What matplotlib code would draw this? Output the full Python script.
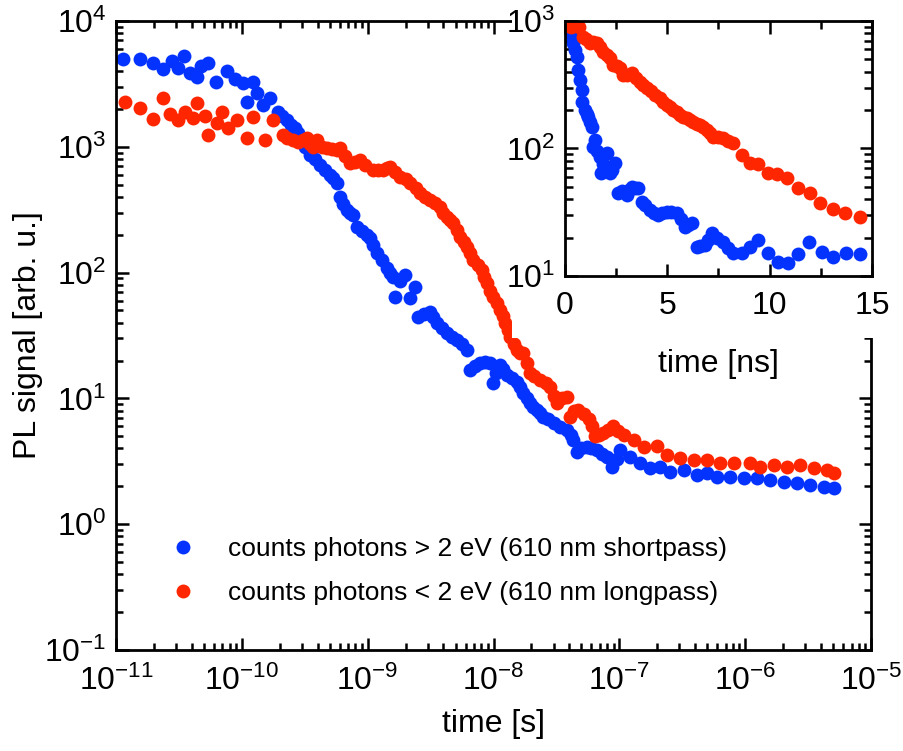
import matplotlib
matplotlib.use("Agg")
import matplotlib.pyplot as plt
from matplotlib.patches import Rectangle
from matplotlib.ticker import LogLocator, MultipleLocator, NullFormatter

plt.rcParams['font.family'] = ['Liberation Sans', 'DejaVu Sans']
plt.rcParams['mathtext.fontset'] = 'custom'
plt.rcParams['mathtext.rm'] = 'Liberation Sans'
plt.rcParams['mathtext.it'] = 'Liberation Sans'

BLUE = '#0433FF'
RED = '#FF2600'

# main panel: time [s], PL signal [arb. u.]
t_short = [1.14e-11, 1.55e-11, 1.98e-11, 2.38e-11, 2.77e-11, 3.13e-11, 3.48e-11, 3.87e-11,
           4.43e-11, 4.71e-11, 5.42e-11, 6.24e-11, 7.59e-11, 8.83e-11, 1.03e-10, 1.09e-10,
           1.23e-10, 1.31e-10, 1.48e-10, 1.67e-10, 1.95e-10, 2.1e-10, 2.28e-10, 2.45e-10,
           2.65e-10, 2.8e-10, 2.99e-10, 3.2e-10, 3.48e-10, 3.8e-10, 4.19e-10, 4.6e-10,
           5.02e-10, 5.3e-10, 5.68e-10, 6.04e-10, 6.4e-10, 6.82e-10, 7.2e-10, 7.70e-10,
           8.20e-10, 9.0e-10, 9.84e-10, 1.04e-9, 1.1e-9, 1.18e-9, 1.3e-9, 1.42e-9,
           1.5e-9, 1.60e-9, 1.65e-9, 1.8e-9, 1.99e-9, 2.17e-9, 2.38e-9, 2.53e-9,
           2.8e-9, 3.13e-9, 3.3e-9, 3.55e-9, 3.9e-9, 4.26e-9, 4.7e-9, 5.11e-9,
           5.6e-9, 6.14e-9, 6.52e-9, 7.1e-9, 7.83e-9, 8.6e-9, 9.40e-9, 9.99e-9,
           1.05e-8, 1.13e-8, 1.2e-8, 1.28e-8, 1.4e-8, 1.53e-8, 1.63e-8, 1.73e-8,
           1.85e-8, 1.95e-8, 2.05e-8, 2.21e-8, 2.35e-8, 2.49e-8, 2.7e-8, 3.00e-8,
           3.4e-8, 3.83e-8, 4.1e-8, 4.32e-8, 4.60e-8, 5.0e-8, 5.52e-8, 6.0e-8,
           6.63e-8, 7.3e-8, 7.96e-8, 8.73e-8, 9.5e-8, 1.02e-7, 1.22e-7, 1.47e-7,
           1.76e-7, 2.11e-7, 2.54e-7, 3.24e-7, 4.14e-7, 4.97e-7, 5.97e-7, 7.60e-7,
           9.70e-7, 1.24e-6, 1.58e-6, 2.02e-6, 2.58e-6, 3.29e-6, 4.20e-6, 5.04e-6]
pl_short = [4960, 4960, 4610, 4130, 4830, 4210, 5270, 3840,
            3600, 4390, 4610, 3290, 4030, 3440, 3200, 2280,
            3290, 2660, 2150, 2430, 1900, 1750, 1630, 1500,
            1400, 1280, 1170, 1000, 861, 800, 716, 660,
            597, 560, 513, 401, 350, 314, 300, 287,
            232, 215, 199, 187, 165, 142, 125, 108,
            100, 92.7, 64.3, 85, 95.7, 62.5, 77.3, 44.6,
            47, 48.9, 44, 39.5, 36, 32.9, 31, 29.1,
            27, 24.2, 16.8, 18, 19.0, 19.5, 19.0, 13.2,
            16, 18.4, 17, 15.3, 14.5, 13.6, 12.3, 11.0,
            10.0, 9.14, 8.6, 8.08, 7.6, 7.15, 6.8, 6.34,
            5.9, 5.60, 5.1, 4.67, 3.77, 4.0, 4.13, 4.0,
            3.88, 3.6, 3.44, 2.86, 3.3, 3.88, 3.44, 3.05,
            2.78, 2.86, 2.61, 2.70, 2.46, 2.54, 2.38, 2.38,
            2.31, 2.31, 2.24, 2.18, 2.11, 2.05, 1.99, 1.93]

t_long = [1.18e-11, 1.55e-11, 1.98e-11, 2.38e-11, 2.69e-11, 3.13e-11, 3.54e-11, 4.12e-11,
          4.38e-11, 5.10e-11, 5.42e-11, 6.32e-11, 6.92e-11, 7.81e-11, 9.11e-11, 1.09e-10,
          1.23e-10, 1.53e-10, 1.78e-10, 2.14e-10, 2.3e-10, 2.57e-10, 2.8e-10, 3.08e-10,
          3.28e-10, 3.5e-10, 3.70e-10, 3.94e-10, 4.3e-10, 4.73e-10, 5.2e-10, 5.68e-10,
          6.04e-10, 6.6e-10, 7.24e-10, 8.0e-10, 8.71e-10, 9.5e-10, 1.11e-9, 1.2e-9,
          1.33e-9, 1.42e-9, 1.51e-9, 1.65e-9, 1.81e-9, 2.0e-9, 2.17e-9, 2.4e-9,
          2.61e-9, 2.85e-9, 3.13e-9, 3.45e-9, 3.77e-9, 4.0e-9, 4.26e-9, 4.5e-9,
          4.80e-9, 5.1e-9, 5.43e-9, 5.8e-9, 6.14e-9, 6.5e-9, 6.92e-9, 7.5e-9,
          8.07e-9, 8.45e-9, 8.85e-9, 9.4e-9, 9.99e-9, 1.06e-8, 1.13e-8, 1.18e-8,
          1.24e-8, 1.3e-8, 1.36e-8, 1.45e-8, 1.53e-8, 1.63e-8, 1.73e-8, 1.84e-8,
          1.95e-8, 2.1e-8, 2.35e-8, 2.6e-8, 2.82e-8, 3.0e-8, 3.19e-8, 3.5e-8,
          3.83e-8, 4.06e-8, 4.4e-8, 4.71e-8, 5.2e-8, 5.75e-8, 6.1e-8, 6.43e-8,
          6.9e-8, 7.48e-8, 8.2e-8, 8.98e-8, 9.8e-8, 1.08e-7, 1.30e-7,
          1.56e-7, 1.99e-7, 2.39e-7, 3.05e-7, 3.89e-7, 4.97e-7, 6.34e-7, 8.08e-7,
          1.10e-6, 1.32e-6, 1.68e-6, 2.15e-6, 2.74e-6, 3.50e-6, 4.47e-6, 5.04e-6]
pl_long = [2280, 2020, 1650, 2430, 1820, 1630, 1900, 1690,
           2220, 1760, 1240, 1540, 1900, 1400, 1630, 1170,
           1730, 1130, 1630, 1240, 1180, 1130, 1100, 1130,
           1170, 1050, 1000, 1130, 1000, 987, 960, 943,
           973, 850, 740, 760, 786, 720, 654, 660,
           654, 680, 694, 630, 578, 550, 513, 470,
           427, 400, 378, 355, 334, 300, 278, 262,
           247, 220, 193, 175, 161, 143, 126, 115,
           105, 93, 82.2, 72, 64.3, 57, 50.4, 45,
           39.5, 35, 30.9, 27, 24.2, 23, 22.8, 19,
           15.8, 15, 14.0, 13.2, 12.4, 10.5, 9.14, 10,
           10.3, 7.15, 8.0, 8.08, 7.5, 6.85, 6.0, 5.02,
           5.1, 5.27, 5.6, 6.03, 5.5, 5.12, 4.67,
           4.13, 4.22, 3.55, 3.34, 3.24, 3.24, 3.05, 3.05,
           3.05, 2.86, 2.95, 2.86, 2.95, 2.78, 2.70, 2.54]

# inset: time [ns], linear axis
ns_short = [0.10, 0.24, 0.33, 0.41, 0.49, 0.57, 0.65, 0.73, 0.82, 0.85, 0.98, 1.06, 1.14,
            1.22, 1.30, 1.38, 1.47, 1.55, 1.71, 1.75, 1.88, 2.04, 2.12, 2.20, 2.32,
            2.44, 2.60, 2.80, 3.01, 3.15, 3.26, 3.42, 3.58, 3.75, 3.90, 4.15, 4.35,
            4.56, 4.76, 4.97, 5.20, 5.46, 5.66, 5.86, 6.00, 6.19, 6.43, 6.60, 6.84,
            7.00, 7.17, 7.45, 7.73, 7.97, 8.22, 8.63, 9.04, 9.44, 9.93, 10.42, 10.91,
            11.40, 11.93, 12.54, 13.11, 13.73, 14.41]
in_short = [920, 850, 760, 668, 590, 525, 413, 344, 288, 233, 200, 188, 177,
            162, 148, 103, 117, 95, 86.3, 63.9, 75, 91.6, 70, 63.9, 68,
            76.6, 44.6, 46, 43.2, 47, 50.1, 49, 48.7, 38.3, 36, 33.0, 31,
            30.1, 31, 31.9, 31.5, 31.0, 28, 24.4, 25, 25.9, 17.0, 17.3, 17.5,
            19, 21.6, 20, 18.6, 16.5, 15.1, 15.1, 17.0, 19.1, 15.2, 12.9, 12.7,
            14.8, 18.4, 15.3, 14.2, 15.1, 14.8]

ns_long = [0.15, 0.30, 0.49, 0.70, 0.89, 1.05, 1.22, 1.38, 1.55, 1.70, 1.87, 2.03, 2.20,
           2.36, 2.52, 2.69, 2.85, 3.05, 3.26, 3.45, 3.66, 3.82, 3.99, 4.20, 4.40,
           4.64, 4.80, 4.97, 5.12, 5.29, 5.45, 5.62, 5.78, 5.95, 6.10, 6.27, 6.43,
           6.59, 6.75, 6.92, 7.08, 7.24, 7.48, 7.73, 7.97, 8.22, 8.63, 9.04, 9.44,
           9.93, 10.34, 10.83, 11.40, 11.97, 12.46, 13.11, 13.68, 14.41]
in_long = [950, 890, 930, 900, 753, 720, 668, 690, 668, 620, 574, 540, 510,
           452, 440, 426, 377, 380, 389, 360, 334, 315, 297, 280, 263,
           248, 232, 219, 210, 200, 192, 183, 178, 173, 168, 162, 157,
           153, 147, 140, 132, 124, 122, 120, 115, 110, 88.9, 77.4, 75.6,
           64.6, 63.1, 58.4, 49.3, 45.0, 37.6, 33.5, 31.0, 29.2]

label_short = 'counts photons > 2 eV (610 nm shortpass)'
label_long = 'counts photons < 2 eV (610 nm longpass)'

FS = 23
MS = 10
W, H = 904, 751
fig = plt.figure(figsize=(W / 100, H / 100), dpi=100)


def style_ticks(ax, major_len=9, minor_len=5, xpad=7):
    ax.tick_params(which='both', direction='in', top=True, right=True,
                   labelsize=FS, width=1.8, pad=7)
    ax.tick_params(axis='x', which='both', pad=xpad)
    ax.tick_params(which='major', length=major_len)
    ax.tick_params(which='minor', length=minor_len)
    for s in ax.spines.values():
        s.set_linewidth(2)


ax = fig.add_axes([116 / W, 1 - 650 / H, 755 / W, 629 / H])
ax.plot(t_short, pl_short, 'o', color=BLUE, ms=MS, mec='none', label=label_short)
ax.plot(t_long, pl_long, 'o', color=RED, ms=MS, mec='none', label=label_long)
ax.set_xscale('log')
ax.set_yscale('log')
ax.set_xlim(1e-11, 1e-5)
ax.set_ylim(1e-1, 1e4)
ax.xaxis.set_major_locator(LogLocator(base=10, numticks=20))
ax.xaxis.set_minor_locator(LogLocator(base=10, subs=range(2, 10), numticks=100))
ax.yaxis.set_major_locator(LogLocator(base=10, numticks=20))
ax.yaxis.set_minor_locator(LogLocator(base=10, subs=range(2, 10), numticks=100))
ax.xaxis.set_minor_formatter(NullFormatter())
ax.yaxis.set_minor_formatter(NullFormatter())
style_ticks(ax, xpad=11)
ax.set_xlabel('time [s]', fontsize=FS, labelpad=9)
ax.set_ylabel('PL signal [arb. u.]', fontsize=FS, labelpad=1)

ax.legend(loc='center left', bbox_to_anchor=((170 - 116) / 755, (650 - 571) / 629),
          frameon=False, fontsize=19, numpoints=1, handlelength=1.0,
          handletextpad=1.2, labelspacing=0.75, borderpad=0, borderaxespad=0)

# white area behind the inset
fig.patches.append(Rectangle((512 / W, 1 - 338 / H), 1 - 512 / W, 338 / H,
                             transform=fig.transFigure, facecolor='white',
                             edgecolor='none', zorder=1))

ins = fig.add_axes([565 / W, 1 - 276 / H, 307 / W, 255 / H])
ins.set_zorder(2)
ins.plot(ns_short, in_short, 'o', color=BLUE, ms=MS, mec='none')
ins.plot(ns_long, in_long, 'o', color=RED, ms=MS, mec='none')
ins.set_yscale('log')
ins.set_xlim(0, 15)
ins.set_ylim(10, 1000)
ins.xaxis.set_major_locator(MultipleLocator(5))
ins.xaxis.set_minor_locator(MultipleLocator(2.5))
ins.yaxis.set_minor_locator(LogLocator(base=10, subs=range(2, 10), numticks=100))
ins.yaxis.set_minor_formatter(NullFormatter())
style_ticks(ins, major_len=9, minor_len=6, xpad=11)
ins.set_xlabel('time [ns]', fontsize=FS, labelpad=20)

fig.savefig('out.png', dpi=100)
